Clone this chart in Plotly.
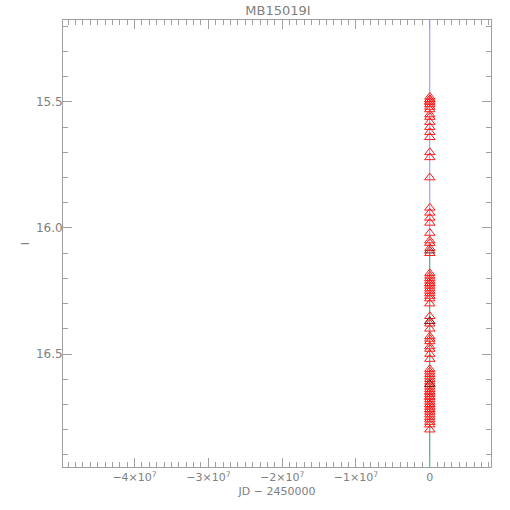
import plotly.graph_objects as go

# Photometry (JD - 2450000, I magnitude)
mag = [15.48, 15.49, 15.49, 15.50, 15.50, 15.51, 15.52, 15.53, 15.55, 15.56,
       15.58, 15.60, 15.62, 15.64, 15.70, 15.72, 15.80, 15.92, 15.94, 15.96,
       15.98, 16.02, 16.05, 16.06, 16.08, 16.10,
       16.18, 16.19, 16.20, 16.21, 16.22, 16.22, 16.23, 16.24, 16.25, 16.26,
       16.27, 16.28, 16.30, 16.35, 16.37, 16.38, 16.40, 16.43, 16.44, 16.45,
       16.47, 16.48, 16.50, 16.52,
       16.56, 16.57, 16.58, 16.59, 16.60, 16.61, 16.62, 16.62, 16.63, 16.64,
       16.65, 16.65, 16.66, 16.67, 16.67, 16.68, 16.69, 16.70, 16.70, 16.71,
       16.72, 16.72, 16.73, 16.74, 16.75, 16.76, 16.77, 16.78, 16.80]
jd = [7190.1, 7190.2, 7190.3, 7190.4, 7190.5, 7190.6, 7190.7, 7190.8, 7191.0, 7191.2,
      7191.4, 7191.6, 7191.8, 7192.0, 7192.3, 7192.5, 7193.0, 7193.5, 7193.7, 7194.0,
      7194.2, 7194.6, 7195.0, 7195.2, 7195.5, 7195.8,
      7197.0, 7197.2, 7197.4, 7197.6, 7197.8, 7198.0, 7198.2, 7198.4, 7198.6, 7198.8,
      7199.0, 7199.2, 7199.5, 7200.0, 7200.4, 7200.6, 7201.0, 7201.5, 7201.8, 7202.0,
      7202.5, 7203.0, 7203.5, 7204.0,
      7150.1, 7152.3, 7155.0, 7158.2, 7160.4, 7163.1, 7165.8, 7168.2, 7170.5, 7172.9,
      7175.3, 7177.6, 7180.0, 7182.4, 7210.2, 7213.5, 7216.8, 7220.1, 7223.4, 7226.7,
      7230.0, 7233.3, 7236.6, 7240.0, 7243.3, 7246.6, 7250.0, 7253.3, 7256.6]

# darker points (second data set)
mag2 = [16.09, 16.37, 16.62]
jd2 = [7195.9, 7200.3, 7168.0]

# model line segments
line_x = [0, 0]
blue_y = [15.175, 16.09]
green_y = [16.09, 16.95]

xtick_vals = [-4e7, -3e7, -2e7, -1e7, 0]
xtick_text = ["\u22124\u00d710<sup>7</sup>", "\u22123\u00d710<sup>7</sup>",
              "\u22122\u00d710<sup>7</sup>", "\u22121\u00d710<sup>7</sup>", "0"]
ytick_vals = [15.5, 16.0, 16.5]
ytick_text = ["15.5", "16.0", "16.5"]

axcol = "#a0a0a0"
txtcol = "#808080"
fam = "DejaVu Sans, Liberation Sans, sans-serif"
fnt = dict(family=fam, size=11, color=txtcol)

fig = go.Figure()
fig.add_trace(go.Scatter(x=line_x, y=blue_y, mode="lines",
                         line=dict(color="#8c8cff", width=1), showlegend=False))
fig.add_trace(go.Scatter(x=line_x, y=green_y, mode="lines",
                         line=dict(color="#2a9a7a", width=1), showlegend=False))
fig.add_trace(go.Scatter(x=jd, y=mag, mode="markers",
                         marker=dict(symbol="triangle-up-open", size=9, color="#ff1a1a",
                                     line=dict(width=1, color="#ff1a1a")),
                         showlegend=False))
fig.add_trace(go.Scatter(x=jd2, y=mag2, mode="markers",
                         marker=dict(symbol="triangle-up-open", size=9, color="#802020",
                                     line=dict(width=1, color="#802020")),
                         showlegend=False))

fig.update_layout(
    width=510, height=510,
    margin=dict(l=63, r=19, t=20, b=43, autoexpand=False),
    paper_bgcolor="white", plot_bgcolor="white",
    font=fnt,
    title=dict(text="MB15019I", x=0.545, xanchor="center", y=0.98, yanchor="middle",
               font=dict(family=fam, size=13, color=txtcol)),
    xaxis=dict(range=[-4.97e7, 0.83e7], showgrid=False, zeroline=False,
               automargin=False,
               showline=True, linecolor=axcol, linewidth=1, mirror="ticks",
               ticks="inside", ticklen=9, tickcolor=axcol, tickwidth=1,
               tickvals=xtick_vals, ticktext=xtick_text,
               tickfont=dict(family=fam, size=11, color=txtcol),
               minor=dict(ticks="inside", ticklen=5, dtick=1e6, tick0=0,
                          tickcolor=axcol, showgrid=False),
               title=dict(text="JD \u2212 2450000", standoff=4,
                          font=dict(family=fam, size=11, color=txtcol))),
    yaxis=dict(range=[16.948, 15.175], showgrid=False, zeroline=False,
               automargin=False,
               showline=True, linecolor=axcol, linewidth=1, mirror="ticks",
               ticks="inside", ticklen=9, tickcolor=axcol, tickwidth=1,
               tickvals=ytick_vals, ticktext=ytick_text,
               ticklabelstandoff=-3,
               tickfont=dict(family=fam, size=12, color=txtcol),
               minor=dict(ticks="inside", ticklen=5, dtick=0.1, tick0=15.0,
                          tickcolor=axcol, showgrid=False),
               title=dict(text="I", standoff=4,
                          font=dict(family=fam, size=11, color=txtcol))),
)

fig.write_html("out.html", config={"displayModeBar": False},
               post_script="document.body.style.margin='0';document.body.style.padding='0';")
